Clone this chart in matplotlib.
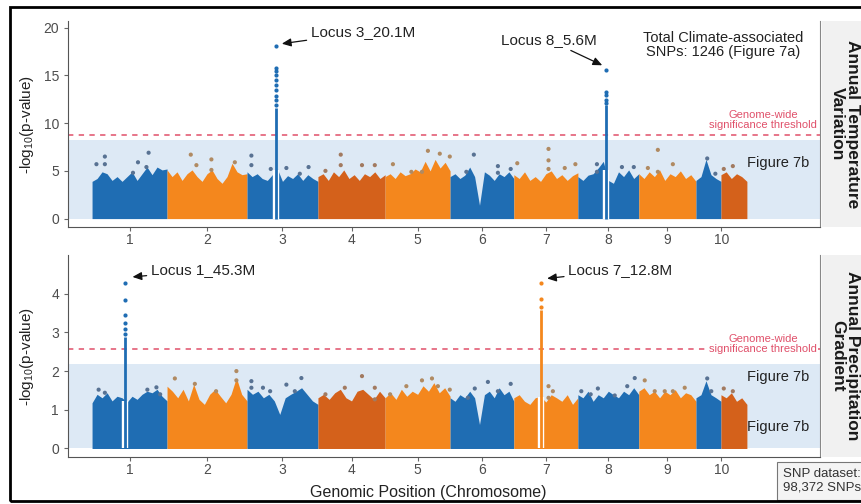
import numpy as np
import matplotlib
matplotlib.use("Agg")
import matplotlib.pyplot as plt
from matplotlib.patches import Rectangle

plt.rcParams['font.family'] = ['Liberation Sans', 'DejaVu Sans']
plt.rcParams['mathtext.default'] = 'regular'

# segment edges along the genome (Mb, cumulative); chr10 is drawn in two colours
seg_edges = [0, 240, 496, 723, 938, 1146, 1350, 1555, 1750, 1933, 2013, 2096]
chrom_edges = [0, 240, 496, 723, 938, 1146, 1350, 1555, 1750, 1933, 2096]
chrom_labels = ['1', '2', '3', '4', '5', '6', '7', '8', '9', '10']

# upper skyline of the SNP cloud, per segment (-log10 p)
temp_env = [
    [3.9, 4.2, 4.9, 4.7, 4.0, 4.4, 3.9, 4.4, 4.9, 4.0, 4.7, 5.4, 4.6, 5.4, 5.1, 5.2],
    [5.1, 4.4, 4.9, 4.0, 4.7, 5.1, 4.4, 3.9, 4.7, 5.1, 4.2, 3.7, 4.4, 5.8, 4.9, 4.6, 4.7],
    [4.9, 4.4, 4.7, 4.2, 4.0, 4.6, 5.2, 3.9, 4.5, 4.2, 4.7, 4.0, 4.6, 4.2, 3.9],
    [4.4, 4.7, 4.0, 4.9, 4.4, 5.1, 4.2, 4.6, 4.0, 4.7, 4.4, 4.9, 4.2, 4.6],
    [4.4, 4.7, 4.2, 4.9, 4.5, 4.7, 5.2, 4.9, 6.0, 5.0, 6.2, 5.3, 5.9, 5.0],
    [4.4, 4.7, 4.2, 4.55, 5.4, 4.4, 1.4, 4.9, 4.55, 4.0, 4.7, 4.4, 4.9, 4.2],
    [4.6, 4.2, 4.9, 4.0, 4.4, 3.9, 4.7, 5.0, 4.2, 4.6, 4.0, 4.5, 4.8],
    [4.4, 4.0, 4.55, 4.7, 5.3, 6.0, 4.0, 3.7, 4.9, 4.4, 5.1, 4.2, 4.7],
    [4.7, 4.2, 4.9, 4.4, 5.1, 4.0, 4.7, 4.4, 5.0, 4.2, 4.6, 3.9],
    [4.0, 4.4, 6.2, 4.6, 4.2, 3.9],
    [4.6, 4.9, 4.2, 4.7, 4.4, 3.9],
]
prec_env = [
    [1.18, 1.40, 1.31, 1.44, 1.23, 1.35, 1.31, 1.20, 1.35, 1.27, 1.40, 1.48, 1.44, 1.53, 1.35, 1.23],
    [1.61, 1.48, 1.31, 1.53, 1.23, 1.66, 1.27, 1.14, 1.40, 1.53, 1.35, 1.18, 1.40, 1.83, 1.40, 1.23],
    [1.53, 1.40, 1.48, 1.31, 1.40, 1.23, 0.88, 1.31, 1.40, 1.48, 1.57, 1.40, 1.23, 1.14],
    [1.31, 1.40, 1.27, 1.44, 1.53, 1.31, 1.23, 1.48, 1.53, 1.40, 1.27, 1.48, 1.31],
    [1.31, 1.44, 1.27, 1.53, 1.35, 1.48, 1.40, 1.62, 1.48, 1.70, 1.44, 1.57, 1.35],
    [1.31, 1.22, 1.39, 1.31, 1.48, 1.31, 0.62, 1.39, 1.48, 1.31, 1.57, 1.39, 1.48, 1.22],
    [1.31, 1.39, 1.22, 1.14, 1.31, 1.35, 1.20, 1.39, 1.31, 1.22, 1.39, 1.14, 1.31],
    [1.39, 1.31, 1.48, 1.22, 1.39, 1.31, 1.48, 1.39, 1.31, 1.48, 1.39, 1.57, 1.39],
    [1.48, 1.57, 1.39, 1.48, 1.31, 1.48, 1.39, 1.52, 1.31, 1.44, 1.39, 1.22],
    [1.31, 1.39, 1.75, 1.39, 1.31, 1.22],
    [1.39, 1.31, 1.44, 1.22, 1.31, 1.14],
]

# isolated SNPs sticking out of the cloud
temp_dots_x = [14, 41, 41, 147, 174, 181, 131, 316, 334, 382, 382, 457, 510, 510, 572, 622, 665, 693,
               747, 796, 796, 864, 905, 963, 1022, 1075, 1113, 1145, 1056, 1222, 1198, 1299, 1299, 1340,
               1361, 1461, 1461, 1461, 1513, 1547, 1616, 1616, 1696, 1734, 1811, 1859, 1811, 1779,
               1969, 1995, 2022, 2051]
temp_dots_y = [5.7, 6.5, 5.7, 5.9, 5.4, 6.9, 4.8, 6.7, 5.6, 6.2, 5.1, 5.9, 6.6, 5.6, 5.2, 5.3, 4.7, 5.4,
               5.0, 6.7, 5.6, 5.6, 5.6, 5.7, 4.9, 7.1, 6.8, 6.5, 4.9, 6.7, 4.9, 5.5, 4.8, 5.2,
               5.8, 7.3, 6.1, 5.2, 5.3, 5.7, 5.7, 4.9, 5.4, 5.4, 7.2, 5.7, 4.9, 5.3,
               6.3, 4.7, 5.2, 5.5]
prec_dots_x = [21, 41, 177, 206, 218, 265, 329, 462, 462, 397, 510, 510, 547, 570, 622, 670, 649,
               809, 864, 905, 905, 747, 1006, 954, 1056, 1088, 1107, 1145, 1225, 1267, 1299, 1340, 1203,
               1461, 1461, 1475, 1566, 1619, 1673, 1713, 1737, 1596, 1769, 1801, 1833, 1859, 1897,
               1969, 1982, 2022, 2051]
prec_dots_y = [1.52, 1.44, 1.52, 1.58, 1.40, 1.81, 1.67, 2.00, 1.76, 1.48, 1.74, 1.57, 1.57, 1.48, 1.65, 1.82, 1.48,
               1.57, 1.87, 1.57, 1.27, 1.40, 1.61, 1.40, 1.76, 1.81, 1.61, 1.52, 1.55, 1.72, 1.48, 1.67, 1.31,
               1.61, 1.31, 1.48, 1.48, 1.55, 1.37, 1.61, 1.82, 1.40, 1.76, 1.48, 1.48, 1.48, 1.57,
               1.81, 1.48, 1.55, 1.48]

# significant loci: position, solid column top, separate points above it
temp_peaks_x = [590, 1644]
temp_peaks_col = [11.58, 11.9]
temp_peaks_pts = [[18.06, 15.8, 15.44, 15.09, 14.56, 14.04, 13.5, 12.8, 12.46, 11.93],
                  [15.6, 13.3, 13.0, 12.45, 12.1]]
prec_peaks_x = [107, 1438]
prec_peaks_col = [2.88, 3.57]
prec_peaks_pts = [[4.28, 3.83, 3.44, 3.23, 3.10, 2.97],
                  [4.28, 3.87, 3.66]]

temp_threshold = 8.77
prec_threshold = 2.56
temp_shade_top = 8.24
prec_shade_top = 2.19

BLUE = '#1f6db3'
ORANGE = '#f4871d'
DARK_OR = '#d4611b'
seg_colors = [BLUE, ORANGE, BLUE, DARK_OR, ORANGE, BLUE, ORANGE, BLUE, ORANGE, BLUE, DARK_OR]
dot_colors = {BLUE: '#587293', ORANGE: '#b08a62', DARK_OR: '#a27a60'}
RED = '#e0506a'
SHADE = '#dde9f5'


def seg_color(x):
    i = np.searchsorted(seg_edges, x, side='right') - 1
    return seg_colors[min(max(i, 0), len(seg_colors) - 1)]


def draw_panel(ax, env, dx, dy, peaks_x, peaks_col, peaks_pts, thr, shade_top, ylim, yticks):
    ax.add_patch(Rectangle((-200, 0), 3000, shade_top, facecolor=SHADE, edgecolor='none', zorder=0))
    all_x, all_y = [], []
    for i, vals in enumerate(env):
        xs = np.linspace(seg_edges[i], seg_edges[i + 1], len(vals))
        ax.fill_between(xs, 0, vals, color=seg_colors[i], lw=0, zorder=2)
        all_x.extend(xs)
        all_y.extend(vals)
    ax.scatter(dx, dy, s=9, c=[dot_colors[seg_color(x)] for x in dx], lw=0, zorder=3)
    for px, col, pts in zip(peaks_x, peaks_col, peaks_pts):
        c = seg_color(px)
        ax.vlines(px, 0, np.interp(px, all_x, all_y), color='white', lw=4.6, zorder=3)
        ax.vlines(px, 0, col, color=c, lw=2.0, zorder=4)
        ax.scatter([px] * len(pts), pts, s=9, color=c, lw=0, zorder=4)
    ax.axhline(thr, color=RED, lw=1.1, dashes=(3.5, 3.5), zorder=1)
    ax.set_xlim(-77, 2330)
    ax.set_ylim(*ylim)
    ax.set_yticks(yticks)
    mids = [(chrom_edges[i] + chrom_edges[i + 1]) / 2 for i in range(10)]
    ax.set_xticks(mids)
    ax.set_xticklabels(chrom_labels)
    ax.spines['top'].set_visible(False)
    ax.spines['left'].set_color('#555555')
    ax.spines['bottom'].set_color('#555555')
    ax.spines['right'].set_color('#888888')
    ax.tick_params(labelsize=10, labelcolor='#4d4d4d', color='#666666', length=3, width=0.8)
    ax.tick_params(axis='x', pad=1.5)
    ax.set_ylabel('-log$_{10}$(p-value)', fontsize=11, color='#222222')
    ax.yaxis.set_label_coords(-0.043, 0.5)


fig = plt.figure(figsize=(8.62, 5.04), dpi=100)
ax1 = fig.add_axes([68 / 862, 1 - 227 / 504, 752 / 862, 206 / 504])
ax2 = fig.add_axes([68 / 862, 1 - 457 / 504, 752 / 862, 202 / 504])

draw_panel(ax1, temp_env, temp_dots_x, temp_dots_y, temp_peaks_x, temp_peaks_col, temp_peaks_pts,
           temp_threshold, temp_shade_top, (-0.88, 20.7), [0, 5, 10, 15, 20])
draw_panel(ax2, prec_env, prec_dots_x, prec_dots_y, prec_peaks_x, prec_peaks_col, prec_peaks_pts,
           prec_threshold, prec_shade_top, (-0.22, 5.0), [0, 1, 2, 3, 4])
ax2.set_xlabel('Genomic Position (Chromosome)', fontsize=11.5, color='#222222')
ax2.xaxis.set_label_coords(0.479, -0.138)

arrow = dict(arrowstyle='-|>,head_length=0.5,head_width=0.22', color='#111111', lw=0.9,
             shrinkA=1, shrinkB=1)
ax1.annotate('Locus 3_20.1M', xy=(603, 18.3), xytext=(700, 19.5), fontsize=11,
             ha='left', va='center', color='#222222', arrowprops=arrow)
ax1.annotate('Locus 8_5.6M', xy=(1637, 16.0), xytext=(1462, 18.7), fontsize=11,
             ha='center', va='center', color='#222222', arrowprops=arrow)
ax2.annotate('Locus 1_45.3M', xy=(125, 4.43), xytext=(188, 4.6), fontsize=11,
             ha='left', va='center', color='#222222', arrowprops=arrow)
ax2.annotate('Locus 7_12.8M', xy=(1452, 4.39), xytext=(1524, 4.6), fontsize=11,
             ha='left', va='center', color='#222222', arrowprops=arrow)

ax1.text(2278, 18.2, 'Total Climate-associated\nSNPs: 1246 (Figure 7a)', fontsize=10.5,
         ha='right', va='center', multialignment='center', color='#222222', linespacing=1.0)
ax1.text(2320, 9.25, 'Genome-wide\nsignificance threshold', fontsize=8, color=RED,
         ha='right', va='bottom', multialignment='center', linespacing=1.0)
ax2.text(2320, 2.71, 'Genome-wide\nsignificance threshold', fontsize=8, color=RED,
         ha='right', va='center', multialignment='center', linespacing=1.0,
         bbox=dict(facecolor='white', edgecolor='none', pad=0.5))
ax1.text(2195, 5.8, 'Figure 7b', fontsize=10.5, ha='center', va='center', color='#222222')
ax2.text(2195, 1.85, 'Figure 7b', fontsize=10.5, ha='center', va='center', color='#222222')
ax2.text(2195, 0.55, 'Figure 7b', fontsize=10.5, ha='center', va='center', color='#222222')

# facet strips on the right
for ax, label in [(ax1, 'Annual Temperature\nVariation'), (ax2, 'Annual Precipitation\nGradient')]:
    pos = ax.get_position()
    fig.patches.append(Rectangle((822 / 862, pos.y0), 40 / 862, pos.height, transform=fig.transFigure,
                                 facecolor='#f1f1f1', edgecolor='none', zorder=0))
    fig.text(845 / 862, pos.y0 + pos.height / 2, label, rotation=-90, fontsize=12.5, fontweight='bold',
             ha='center', va='center', multialignment='center', color='#1a1a1a', linespacing=1.0)

fig.text(783 / 862, 1 - 481 / 504, 'SNP dataset:\n98,372 SNPs', fontsize=9.5, ha='left', va='center',
         color='#333333', linespacing=1.15,
         bbox=dict(boxstyle='square,pad=0.45', facecolor='#f4f4f4', edgecolor='#777777', lw=0.8))

# outer frame
fig.patches.append(Rectangle((10 / 862, 3 / 504), 1.0, 1 - 10 / 504, transform=fig.transFigure,
                             fill=False, edgecolor='black', lw=2.0, zorder=10))

fig.savefig('out.png', dpi=100)
